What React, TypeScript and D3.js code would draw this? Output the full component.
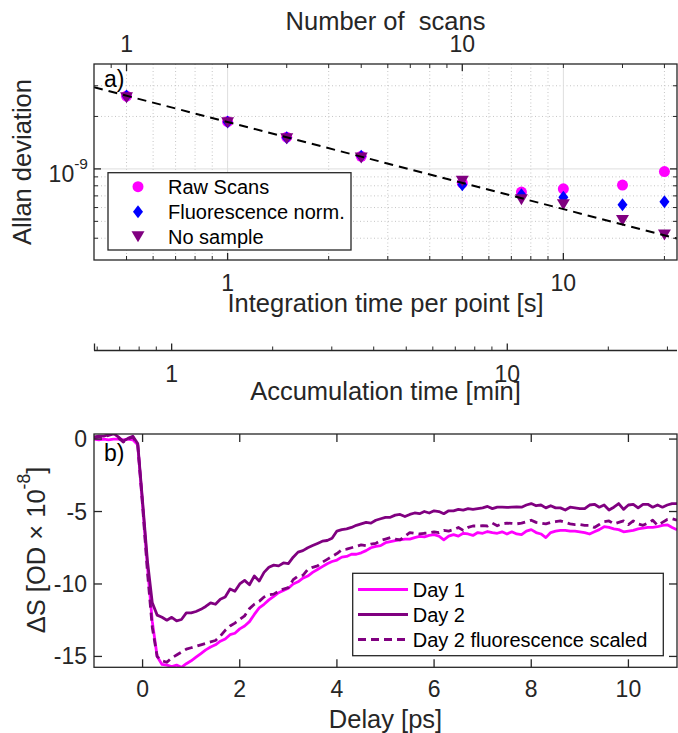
import React from 'react';
import * as d3 from 'd3';

// ---------- Panel a: Allan deviation ----------
const integrationTime = [0.5, 1, 1.5, 2.5, 5, 7.5, 10, 15, 20];
const rawScans = [2.62e-9, 1.87e-9, 1.52e-9, 1.18e-9, 0.83e-9, 0.736e-9, 0.769e-9, 0.807e-9, 0.965e-9];
const fluorNorm = [2.62e-9, 1.86e-9, 1.51e-9, 1.18e-9, 0.81e-9, 0.71e-9, 0.688e-9, 0.623e-9, 0.648e-9];
const noSample = [2.56e-9, 1.84e-9, 1.49e-9, 1.155e-9, 0.848e-9, 0.665e-9, 0.623e-9, 0.505e-9, 0.418e-9];
const fitTime = [0.4, 21.8];
const fitValue = [2.94e-9, 0.398e-9];

const intMajorTicks = [1, 10];
const intMinorTicks = [0.5, 0.6, 0.7, 0.8, 0.9, 2, 3, 4, 5, 6, 7, 8, 9, 20];
const scansMajorTicks = [1, 10];
const scansMinorTicks = [0.9, 2, 3, 4, 5, 6, 7, 8, 9, 20, 30, 40];
const allanMajorTicks = [1e-9];
const allanMinorTicks = [4e-10, 5e-10, 6e-10, 7e-10, 8e-10, 9e-10, 2e-9, 3e-9];
const accMajorTicks = [1, 10];
const accMinorTicks = [0.6, 0.7, 0.8, 0.9, 2, 3, 4, 5, 6, 7, 8, 9, 20, 30];

// ---------- Panel b: transient signal ----------
const delay = [
  -1.0, -0.9, -0.8, -0.7, -0.6, -0.5, -0.4, -0.3, -0.2, -0.1,
  0.0, 0.1, 0.2, 0.3, 0.4, 0.5, 0.6, 0.7, 0.8, 0.9,
  1.0, 1.1, 1.2, 1.3, 1.4, 1.5, 1.6, 1.7, 1.8, 1.9,
  2.0, 2.1, 2.2, 2.3, 2.4, 2.5, 2.6, 2.7, 2.8, 2.9,
  3.0, 3.1, 3.2, 3.3, 3.4, 3.5, 3.6, 3.7, 3.8, 3.9,
  4.0, 4.1, 4.2, 4.3, 4.4, 4.5, 4.6, 4.7, 4.8, 4.9,
  5.0, 5.1, 5.2, 5.3, 5.4, 5.5, 5.6, 5.7, 5.8, 5.9,
  6.0, 6.1, 6.2, 6.3, 6.4, 6.5, 6.6, 6.7, 6.8, 6.9,
  7.0, 7.1, 7.2, 7.3, 7.4, 7.5, 7.6, 7.7, 7.8, 7.9,
  8.0, 8.1, 8.2, 8.3, 8.4, 8.5, 8.6, 8.7, 8.8, 8.9,
  9.0, 9.1, 9.2, 9.3, 9.4, 9.5, 9.6, 9.7, 9.8, 9.9,
  10.0, 10.1, 10.2, 10.3, 10.4, 10.5, 10.6, 10.7, 10.8, 10.9,
  11.0,
];
const day1 = [
  0.0, -0.05, 0.0, -0.05, 0.0, 0.0, -0.05, 0.0, -0.05, -0.4,
  -4.5, -8.8, -12.6, -15.0, -15.55, -15.6, -15.7, -15.6, -15.75, -15.5,
  -15.3, -15.05, -14.8, -14.55, -14.35, -14.2, -13.95, -13.8, -13.5, -13.4,
  -13.1, -12.9, -12.6, -12.1, -11.65, -11.4, -11.1, -10.85, -10.6, -10.45,
  -10.3, -10.0, -9.85, -9.6, -9.45, -9.2, -9.0, -8.8, -8.6, -8.45,
  -8.35, -8.15, -8.1, -7.95, -7.95, -7.85, -7.7, -7.5, -7.4, -7.35,
  -7.15, -7.07, -7.0, -6.95, -6.9, -6.9, -6.8, -6.72, -6.75, -6.65,
  -6.6, -6.7, -6.95, -6.7, -6.6, -6.7, -6.5, -6.55, -6.65, -6.45,
  -6.5, -6.38, -6.45, -6.5, -6.4, -6.55, -6.4, -6.55, -6.6, -6.35,
  -6.25, -6.45, -6.55, -6.8, -6.45, -6.35, -6.3, -6.3, -6.35, -6.35,
  -6.4, -6.45, -6.55, -6.4, -6.25, -6.05, -6.1, -6.2, -6.25, -6.4,
  -6.35, -6.3, -6.2, -6.15, -6.1, -6.1, -6.05, -5.95, -5.92, -6.1,
  -6.26,
];
const day2 = [
  0.15, 0.2, 0.2, 0.3, 0.4, 0.15, -0.15, 0.05, 0.2, -0.3,
  -4.3, -8.4, -11.3, -12.15, -12.3, -12.5, -12.3, -12.55, -12.45, -12.0,
  -12.0, -11.9, -11.75, -11.55, -11.3, -11.4, -11.05, -10.9, -10.35, -10.5,
  -10.0, -9.75, -10.05, -9.45, -9.8, -9.2, -8.85, -8.7, -8.75, -8.55,
  -8.6, -8.15, -7.8, -7.7, -7.5, -7.35, -7.2, -7.05, -7.0, -6.85,
  -6.35, -6.25, -6.2, -6.1, -5.95, -5.85, -5.75, -5.8, -5.6, -5.5,
  -5.4, -5.4, -5.25, -5.2, -5.35, -5.2, -5.1, -5.15, -5.0, -5.1,
  -4.95, -5.0, -5.15, -4.95, -4.95, -4.85, -4.9, -4.8, -4.85, -4.8,
  -4.75, -4.65, -4.8, -4.7, -4.7, -4.72, -4.7, -4.68, -4.7, -4.55,
  -4.45, -4.6, -4.55, -4.75, -4.6, -4.75, -4.75, -4.9, -4.7, -4.75,
  -4.8, -4.8, -4.55, -4.5, -4.7, -4.55, -4.9, -4.7, -4.45, -4.85,
  -4.55, -4.5, -4.75, -4.5, -4.5, -4.7, -4.55, -4.7, -4.55, -4.45,
  -4.45,
];
const day2Fluor = [
  0.1, 0.15, 0.15, 0.25, 0.35, 0.1, -0.2, 0.0, 0.15, -0.4,
  -4.6, -9.2, -13.0, -15.0, -15.3, -15.4, -15.1, -14.9, -14.7, -14.5,
  -14.4, -14.3, -14.2, -14.1, -14.0, -13.9, -13.6, -13.2, -12.9, -12.7,
  -12.45, -12.2, -11.7, -11.4, -11.2, -10.9, -10.75, -10.7, -10.5, -10.35,
  -10.25, -9.7, -9.45, -9.4, -9.0, -8.85, -8.75, -8.5, -8.3, -8.1,
  -7.9, -7.65, -7.6, -7.5, -7.4, -7.3, -7.35, -7.25, -7.2, -7.0,
  -6.9, -6.8, -6.9, -6.95, -6.7, -6.45, -6.5, -6.55, -6.5, -6.47,
  -6.4, -6.45, -6.3, -6.35, -6.25, -6.1, -6.3, -6.1, -6.0, -6.0,
  -5.98, -6.0, -5.8, -5.98, -5.85, -5.8, -5.82, -5.85, -5.8, -5.7,
  -5.6, -5.75, -5.8, -5.85, -5.75, -5.7, -5.65, -5.75, -5.85, -5.9,
  -5.9, -5.95, -5.95, -6.1, -5.9, -5.7, -5.65, -5.85, -5.75, -5.65,
  -5.9, -5.65, -5.85, -5.95, -5.8, -5.6, -5.95, -5.75, -5.55, -5.5,
  -5.6,
];
const delayTicks = [0, 2, 4, 6, 8, 10];
const signalTicks = [-15, -10, -5, 0];

const FONT = '"Liberation Sans", Arial, Helvetica, sans-serif';
const AXC = '#262626';
const MAGENTA = '#ff00ff';
const BLUE = '#0000ff';
const PURPLE = '#800080';
const TICK_FS = 23;
const LABEL_FS = 25.5;
const LEG_FS = 20;

function Marker({ type, x, y }: { type: string; x: number; y: number }) {
  if (type === 'circle') return <circle cx={x} cy={y} r={5.5} fill={MAGENTA} />;
  if (type === 'diamond')
    return <path d={`M${x},${y - 6.5}L${x + 5},${y}L${x},${y + 6.5}L${x - 5},${y}Z`} fill={BLUE} />;
  return <path d={`M${x - 6.5},${y - 5.5}L${x + 6.5},${y - 5.5}L${x},${y + 5.5}Z`} fill={PURPLE} />;
}

export default function App() {
  const L = 94, R = 677;
  const aTop = 64, aBot = 260;
  const xA = d3.scaleLog().domain([0.4, 21.8]).range([L, R]);
  const xScans = d3.scaleLog().domain([0.8, 43.6]).range([L, R]);
  const yA = d3.scaleLog().domain([3e-10, 4e-9]).range([aBot, aTop]);
  const accY = 350.5;
  const xAcc = d3.scaleLog().domain([0.587, 32.04]).range([L, R]);
  const bTop = 434, bBot = 667.3;
  const xB = d3.scaleLinear().domain([-1, 11]).range([L, R]);
  const yB = d3.scaleLinear().domain([-15.75, 0.35]).range([bBot, bTop]);

  const MAJ = 7, MIN = 4;
  const lineB = d3.line<number>().x((_, i) => xB(delay[i])).y((v) => yB(v));
  const fitLine = d3.line<number>().x((_, i) => xA(fitTime[i])).y((v) => yA(v));

  const seriesA = [
    { name: 'Raw Scans', type: 'circle', values: rawScans },
    { name: 'Fluorescence norm.', type: 'diamond', values: fluorNorm },
    { name: 'No sample', type: 'triangle', values: noSample },
  ];
  const seriesB = [
    { name: 'Day 1', values: day1, color: MAGENTA, dash: undefined },
    { name: 'Day 2', values: day2, color: PURPLE, dash: undefined },
    { name: 'Day 2 fluorescence scaled', values: day2Fluor, color: PURPLE, dash: '8,5' },
  ];

  return (
    <svg width={678} height={733} style={{ position: 'absolute', left: 0, top: 0 }} fontFamily={FONT}>
      <rect x={0} y={0} width={678} height={733} fill="#fff" />
      <defs>
        <clipPath id="clipA"><rect x={L} y={aTop} width={R - L} height={aBot - aTop} /></clipPath>
        <clipPath id="clipB"><rect x={L} y={bTop} width={R - L} height={bBot - bTop} /></clipPath>
      </defs>

      {/* ===== Panel a ===== */}
      <g>
        {intMinorTicks.map((t) => (
          <line key={'gx' + t} x1={xA(t)} x2={xA(t)} y1={aTop} y2={aBot} stroke="#c5c5c5" strokeDasharray="1,2.5" />
        ))}
        {allanMinorTicks.map((t) => (
          <line key={'gy' + t} x1={L} x2={R} y1={yA(t)} y2={yA(t)} stroke="#c5c5c5" strokeDasharray="1,2.5" />
        ))}
        {intMajorTicks.map((t) => (
          <line key={'GX' + t} x1={xA(t)} x2={xA(t)} y1={aTop} y2={aBot} stroke="#dedede" />
        ))}
        {allanMajorTicks.map((t) => (
          <line key={'GY' + t} x1={L} x2={R} y1={yA(t)} y2={yA(t)} stroke="#dedede" />
        ))}

        <g clipPath="url(#clipA)">
          {seriesA.map((s) =>
            s.values.map((v, i) => <Marker key={s.type + i} type={s.type} x={xA(integrationTime[i])} y={yA(v)} />)
          )}
          <path d={fitLine(fitValue) || ''} fill="none" stroke="#000" strokeWidth={2} strokeDasharray="9,6" />
        </g>

        <rect x={L} y={aTop} width={R - L} height={aBot - aTop} fill="none" stroke={AXC} strokeWidth={1.3} />
        {intMajorTicks.map((t) => (
          <line key={'bt' + t} x1={xA(t)} x2={xA(t)} y1={aBot} y2={aBot - MAJ} stroke={AXC} strokeWidth={1.3} />
        ))}
        {intMinorTicks.map((t) => (
          <line key={'bm' + t} x1={xA(t)} x2={xA(t)} y1={aBot} y2={aBot - MIN} stroke={AXC} />
        ))}
        {scansMajorTicks.map((t) => (
          <line key={'tt' + t} x1={xScans(t)} x2={xScans(t)} y1={aTop} y2={aTop + MAJ} stroke={AXC} strokeWidth={1.3} />
        ))}
        {scansMinorTicks.map((t) => (
          <line key={'tm' + t} x1={xScans(t)} x2={xScans(t)} y1={aTop} y2={aTop + MIN} stroke={AXC} />
        ))}
        {allanMajorTicks.map((t) => (
          <g key={'yt' + t}>
            <line x1={L} x2={L + MAJ} y1={yA(t)} y2={yA(t)} stroke={AXC} strokeWidth={1.3} />
            <line x1={R} x2={R - MAJ} y1={yA(t)} y2={yA(t)} stroke={AXC} strokeWidth={1.3} />
          </g>
        ))}
        {allanMinorTicks.map((t) => (
          <g key={'ym' + t}>
            <line x1={L} x2={L + MIN} y1={yA(t)} y2={yA(t)} stroke={AXC} />
            <line x1={R} x2={R - MIN} y1={yA(t)} y2={yA(t)} stroke={AXC} />
          </g>
        ))}

        {intMajorTicks.map((t) => (
          <text key={'bl' + t} x={xA(t)} y={290.5} fontSize={TICK_FS} fill={AXC} textAnchor="middle">{t}</text>
        ))}
        {scansMajorTicks.map((t) => (
          <text key={'tl' + t} x={xScans(t)} y={52} fontSize={TICK_FS} fill={AXC} textAnchor="middle">{t}</text>
        ))}
        <text x={88} y={181.5} fontSize={TICK_FS} fill={AXC} textAnchor="end">
          10<tspan dy={-12.5} fontSize={15.5}>-9</tspan>
        </text>

        <text x={385.5} y={30} fontSize={LABEL_FS} fill={AXC} textAnchor="middle" style={{ whiteSpace: 'pre' }}>
          Number of  scans
        </text>
        <text x={385.5} y={311.5} fontSize={LABEL_FS} fill={AXC} textAnchor="middle">Integration time per point [s]</text>
        <text transform="translate(31,162) rotate(-90)" fontSize={LABEL_FS} fill={AXC} textAnchor="middle">Allan deviation</text>
        <text x={104} y={87} fontSize={TICK_FS} fill="#000">a)</text>

        <rect x={108} y={172.7} width={243} height={77.3} fill="#fff" stroke={AXC} strokeWidth={1.3} />
        {seriesA.map((s, i) => (
          <g key={'la' + i}>
            <Marker type={s.type} x={138} y={186.7 + i * 25} />
            <text x={168} y={186.7 + i * 25 + 7} fontSize={LEG_FS} fill="#000">{s.name}</text>
          </g>
        ))}
      </g>

      {/* ===== Accumulation time axis ===== */}
      <g>
        <line x1={L} x2={R} y1={accY} y2={accY} stroke={AXC} strokeWidth={1.5} />
        <line x1={L + 0.5} x2={L + 0.5} y1={accY} y2={accY - MAJ} stroke={AXC} strokeWidth={1.3} />
        {accMajorTicks.map((t) => (
          <line key={'am' + t} x1={xAcc(t)} x2={xAcc(t)} y1={accY} y2={accY - MAJ} stroke={AXC} strokeWidth={1.3} />
        ))}
        {accMinorTicks.map((t) => (
          <line key={'an' + t} x1={xAcc(t)} x2={xAcc(t)} y1={accY} y2={accY - MIN} stroke={AXC} />
        ))}
        {accMajorTicks.map((t) => (
          <text key={'al' + t} x={xAcc(t)} y={382} fontSize={TICK_FS} fill={AXC} textAnchor="middle">{t}</text>
        ))}
        <text x={385.5} y={400} fontSize={LABEL_FS} fill={AXC} textAnchor="middle">Accumulation time [min]</text>
      </g>

      {/* ===== Panel b ===== */}
      <g>
        <g clipPath="url(#clipB)">
          {seriesB.map((s) => (
            <path key={s.name} d={lineB(s.values) || ''} fill="none" stroke={s.color} strokeWidth={2.8}
              strokeDasharray={s.dash} strokeLinejoin="round" />
          ))}
        </g>
        <rect x={L} y={bTop} width={R - L} height={bBot - bTop} fill="none" stroke={AXC} strokeWidth={1.3} />
        {delayTicks.map((t) => (
          <g key={'dx' + t}>
            <line x1={xB(t)} x2={xB(t)} y1={bBot} y2={bBot - 8} stroke={AXC} strokeWidth={1.3} />
            <line x1={xB(t)} x2={xB(t)} y1={bTop} y2={bTop + 8} stroke={AXC} strokeWidth={1.3} />
            <text x={xB(t)} y={697} fontSize={TICK_FS} fill={AXC} textAnchor="middle">{t}</text>
          </g>
        ))}
        {signalTicks.map((t) => (
          <g key={'sy' + t}>
            <line x1={L} x2={L + 8} y1={yB(t)} y2={yB(t)} stroke={AXC} strokeWidth={1.3} />
            <line x1={R} x2={R - 8} y1={yB(t)} y2={yB(t)} stroke={AXC} strokeWidth={1.3} />
            <text x={87} y={yB(t) + 8} fontSize={TICK_FS} fill={AXC} textAnchor="end">{t}</text>
          </g>
        ))}
        <text x={385.5} y={728} fontSize={LABEL_FS} fill={AXC} textAnchor="middle">Delay [ps]</text>
        <text transform="translate(45,550) rotate(-90)" fontSize={LABEL_FS} fill={AXC} textAnchor="middle">
          ΔS [OD × 10<tspan dy={-15} fontSize={17.5}>-8</tspan><tspan dy={15}>]</tspan>
        </text>
        <text x={104} y={461} fontSize={TICK_FS} fill="#000">b)</text>

        <rect x={352.7} y={573.3} width={310.6} height={82.4} fill="#fff" stroke={AXC} strokeWidth={1.3} />
        {seriesB.map((s, i) => (
          <g key={'lb' + i}>
            <line x1={358} x2={408} y1={589.5 + i * 25} y2={589.5 + i * 25} stroke={s.color} strokeWidth={2.8}
              strokeDasharray={s.dash} />
            <text x={412.7} y={589.5 + i * 25 + 7} fontSize={LEG_FS} fill="#000">{s.name}</text>
          </g>
        ))}
      </g>
    </svg>
  );
}
